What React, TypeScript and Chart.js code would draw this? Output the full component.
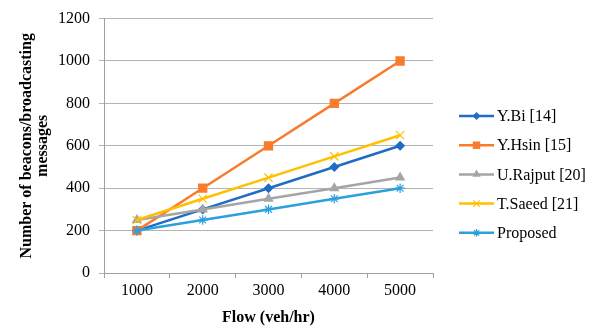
import React, { useEffect, useRef } from "react";
import { Chart, registerables } from "chart.js";

Chart.register(...registerables);

const categories = ["1000", "2000", "3000", "4000", "5000"];
const seriesNames = ["Y.Bi [14]", "Y.Hsin [15]", "U.Rajput [20]", "T.Saeed [21]", "Proposed"];
const yBi = [200, 300, 400, 500, 600];
const yHsin = [200, 400, 600, 800, 1000];
const uRajput = [250, 300, 350, 400, 450];
const tSaeed = [250, 350, 450, 550, 650];
const proposed = [200, 250, 300, 350, 400];
const yTicks = [0, 200, 400, 600, 800, 1000, 1200];

const colors = ["#1F6CC4", "#F97B2C", "#A5A5A5", "#FFC000", "#2AA0DD"];
const pointStyles = ["rectRot", "rect", "triangle", "crossRot", "star"];
const radii = [5, 6.6, 6, 5.8, 4.8];

const FONT = "'Liberation Serif', 'Times New Roman', serif";

function drawMarker(ctx: CanvasRenderingContext2D, style: string, x: number, y: number, r: number, color: string) {
  ctx.save();
  ctx.fillStyle = color;
  ctx.strokeStyle = color;
  ctx.lineWidth = 1.2;
  ctx.beginPath();
  if (style === "rectRot") {
    ctx.moveTo(x, y - r);
    ctx.lineTo(x + r, y);
    ctx.lineTo(x, y + r);
    ctx.lineTo(x - r, y);
    ctx.closePath();
    ctx.fill();
  } else if (style === "rect") {
    const s = r * Math.SQRT1_2;
    ctx.rect(x - s, y - s, 2 * s, 2 * s);
    ctx.fill();
  } else if (style === "triangle") {
    ctx.moveTo(x, y - r);
    ctx.lineTo(x + r * 0.866, y + r * 0.5);
    ctx.lineTo(x - r * 0.866, y + r * 0.5);
    ctx.closePath();
    ctx.fill();
  } else if (style === "crossRot") {
    const s = r * Math.SQRT1_2;
    ctx.moveTo(x - s, y - s);
    ctx.lineTo(x + s, y + s);
    ctx.moveTo(x - s, y + s);
    ctx.lineTo(x + s, y - s);
    ctx.stroke();
  } else if (style === "star") {
    const s = r * Math.SQRT1_2;
    ctx.moveTo(x, y - r);
    ctx.lineTo(x, y + r);
    ctx.moveTo(x - r, y);
    ctx.lineTo(x + r, y);
    ctx.moveTo(x - s, y - s);
    ctx.lineTo(x + s, y + s);
    ctx.moveTo(x - s, y + s);
    ctx.lineTo(x + s, y - s);
    ctx.stroke();
  }
  ctx.restore();
}

const legendPlugin = {
  id: "customLegend",
  afterDraw(chart: any) {
    const ctx: CanvasRenderingContext2D = chart.ctx;
    const area = chart.chartArea;
    const x0 = area.right + 26;
    const lineLen = 35;
    const yStart = 116;
    const step = 29.2;
    ctx.save();
    seriesNames.forEach((name, i) => {
      const y = yStart + i * step;
      ctx.strokeStyle = colors[i];
      ctx.lineWidth = 2.5;
      ctx.beginPath();
      ctx.moveTo(x0, y);
      ctx.lineTo(x0 + lineLen, y);
      ctx.stroke();
      drawMarker(ctx, pointStyles[i], x0 + lineLen / 2, y, radii[i] * 0.8, colors[i]);
      ctx.fillStyle = "#000";
      ctx.font = `16px ${FONT}`;
      ctx.textAlign = "left";
      ctx.textBaseline = "middle";
      ctx.fillText(name, x0 + lineLen + 3, y + 1);
    });
    ctx.restore();
  },
};

export default function App() {
  const ref = useRef<HTMLCanvasElement | null>(null);
  useEffect(() => {
    document.body.style.margin = "0";
    if (!ref.current) return;
    const seriesData = [yBi, yHsin, uRajput, tSaeed, proposed];
    const chart = new Chart(ref.current, {
      type: "line",
      data: {
        labels: categories,
        datasets: seriesData.map((d, i) => ({
          label: seriesNames[i],
          data: d,
          borderColor: colors[i],
          backgroundColor: colors[i],
          pointBackgroundColor: colors[i],
          pointBorderColor: colors[i],
          pointStyle: pointStyles[i] as any,
          pointRadius: radii[i],
          pointBorderWidth: i >= 3 ? 1.2 : 0,
          borderWidth: 2.5,
          tension: 0,
          fill: false,
          order: 5 - i,
        })),
      },
      options: {
        responsive: false,
        animation: false,
        layout: { padding: { left: 0, right: 170, top: 18, bottom: 0 } },
        plugins: { legend: { display: false }, tooltip: { enabled: false } },
        scales: {
          x: {
            type: "category",
            offset: true,
            grid: { offset: true, drawOnChartArea: false, drawTicks: true, tickLength: 5, color: "#A0A0A0" },
            border: { color: "#A0A0A0", width: 1 },
            ticks: { font: { family: FONT, size: 16 }, color: "#000", padding: 3, maxRotation: 0 },
            title: {
              display: true,
              text: "Flow (veh/hr)",
              font: { family: FONT, size: 16, weight: "bold", lineHeight: 1 },
              color: "#000",
              padding: { top: 0, bottom: 6 },
            },
            afterFit: (scale: any) => {
              scale.height = 59;
            },
          },
          y: {
            min: 0,
            max: 1200,
            afterBuildTicks: (scale: any) => {
              scale.ticks = yTicks.map((v) => ({ value: v }));
            },
            grid: { color: "#B4B4B4", drawTicks: true, tickLength: 5 },
            border: { color: "#A0A0A0", width: 1 },
            ticks: {
              font: { family: FONT, size: 16 },
              color: "#000",
              padding: 9,
              callback: (v: any) => String(v),
            },
            title: {
              display: true,
              text: ["Number of beacons/broadcasting", "messages"],
              font: { family: FONT, size: 16, weight: "bold", lineHeight: 1 },
              color: "#000",
              padding: { top: 19, bottom: 0 },
            },
            afterFit: (scale: any) => {
              scale.width = 104;
            },
          },
        },
      },
      plugins: [legendPlugin],
    });
    return () => chart.destroy();
  }, []);
  return (
    <div style={{ position: "absolute", left: 0, top: 0, width: 603, height: 332, background: "#fff" }}>
      <canvas ref={ref} width={603} height={332} style={{ width: 603, height: 332 }} />
    </div>
  );
}
